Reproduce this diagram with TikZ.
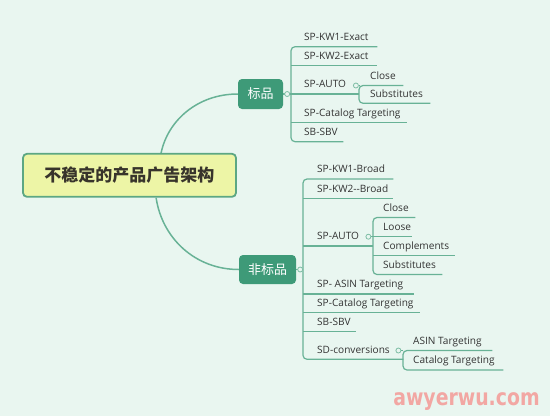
\documentclass[tikz,border=0pt]{standalone}
\usepackage{fontspec}
\usepackage{graphicx}
\usetikzlibrary{calc}
\setmainfont{Open Sans}
\newfontfamily\cjk{Noto Sans CJK SC}
\newfontfamily\wmfont{DejaVu Sans}
\definecolor{bg}{HTML}{E9F6F0}
\definecolor{ln}{HTML}{68B296}
\definecolor{topicfill}{HTML}{3E9A78}
\definecolor{rootfill}{HTML}{EDF5A6}
\definecolor{rootdraw}{HTML}{5CA783}
\definecolor{txt}{HTML}{333333}
\definecolor{wm}{HTML}{F2A7A3}
\newcommand\leafnode[6]{%
  \node[leaf] (#1) at (#2,#3) {\makebox[\dimexpr#4pt-#2pt\relax][l]{\hspace*{#5pt}#6}};}
\begin{document}
\begin{tikzpicture}[x=1pt,y=-1pt,
  br/.style={draw=ln,line width=1.2pt},
  cv/.style={draw=ln,line width=1.5pt},
  leaf/.style={anchor=south west,inner xsep=0pt,inner ysep=0pt,text height=10pt,text depth=6pt,
    text=txt,font=\fontsize{10.1}{11}\selectfont},
  root/.style={draw=rootdraw,fill=rootfill,line width=1.8pt,rounded corners=4pt,
    minimum width=213pt,minimum height=43pt,inner sep=0pt,text=black!80!olive,
    font=\cjk\bfseries\fontsize{17}{17}\selectfont},
  topic/.style={fill=topicfill,rounded corners=4pt,inner sep=0pt,text=white,
    font=\cjk\fontsize{13}{13}\selectfont},
  dot/.style={circle,draw=ln!85,fill=bg,line width=0.8pt,inner sep=0pt,minimum size=5pt},
  wmk/.style={text=wm,font=\wmfont\bfseries\fontsize{23}{23}\selectfont,inner sep=0pt}]
\fill[bg] (0,0) rectangle (550,416);
\useasboundingbox (0,0) rectangle (550,416);

% root and topics
\node[root] (root) at (129.5,175.3) {不稳定的产品广告架构};
\node[topic,minimum width=45pt,minimum height=30pt] (std) at (260.5,94) {标品};
\node[topic,minimum width=57pt,minimum height=29pt] (fstd) at (267.5,269.5) {非标品};

\draw[cv] ($(root.north west)+(139,0)$) .. controls (168,120) and (198,94) .. (std.west);
\draw[cv] ($(root.south west)+(134,0)$) .. controls (162,238) and (195,269.5) .. (fstd.west);

% children of 标品
\leafnode{k1}{291}{46.7}{377}{13}{SP-KW1-Exact}
\leafnode{k2}{291}{65.7}{377}{13}{SP-KW2-Exact}
\leafnode{auto1}{291}{94}{359}{13}{SP-AUTO}
\leafnode{cat1}{291}{122.7}{407}{13}{SP-Catalog Targeting}
\leafnode{sbv1}{291}{141.7}{343}{13}{SB-SBV}
\leafnode{close1}{359}{85.5}{403}{11}{Close}
\leafnode{subs1}{359}{103.3}{430}{11}{Substitutes}

\draw[br] (std.east) -- (std.east -| k1.south west);
\draw[br,rounded corners=4pt] (k1.south east) -- (k1.south west) -- (sbv1.south west) -- (sbv1.south east);
\foreach \n in {k2,cat1} \draw[br] (\n.south west) -- (\n.south east);
\draw[br] (auto1.south west) -- (auto1.south east);
\node[dot] (d1) at ($(std.east)+(4,0)$) {};

\node[dot] (d2) at ($(auto1.south east)+(-3.5,-8.5)$) {};
\draw[br] (d2.east) -- (close1.south west);
\draw[br,rounded corners=4pt] (close1.south east) -- (close1.south west) -- (subs1.south west) -- (subs1.south east);

% children of 非标品
\leafnode{b1}{303}{179}{393}{14}{SP-KW1-Broad}
\leafnode{b2}{303}{198.3}{393}{14}{SP-KW2-{}-Broad}
\leafnode{auto2}{303}{246}{373}{14}{SP-AUTO}
\leafnode{asin2}{303}{294}{414}{14}{SP- ASIN Targeting}
\leafnode{cat2}{303}{312.7}{420}{14}{SP-Catalog Targeting}
\leafnode{sbv2}{303}{331.7}{356}{14}{SB-SBV}
\leafnode{sd}{303}{359.3}{403}{14}{SD-conversions}

\leafnode{close2}{373}{217.5}{415}{10}{Close}
\leafnode{loose2}{373}{236.7}{412}{10}{Loose}
\leafnode{comp2}{373}{255.7}{455}{10}{Complements}
\leafnode{subs2}{373}{274.5}{442}{10}{Substitutes}

\leafnode{asin3}{403}{350.5}{492}{10}{ASIN Targeting}
\leafnode{cat3}{403}{370}{503}{10}{Catalog Targeting}

\draw[br] (fstd.east) -- (fstd.east -| b1.south west);
\draw[br,rounded corners=4pt] (b1.south east) -- (b1.south west) -- (sd.south west) -- (sd.south east);
\foreach \n in {b2,auto2,asin2,cat2,sbv2} \draw[br] (\n.south west) -- (\n.south east);
\node[dot] (d3) at ($(fstd.east)+(4,0)$) {};

\node[dot] (d4) at ($(auto2.south east)+(-5,-9.3)$) {};
\draw[br] (d4.east) -- (loose2.south west);
\draw[br,rounded corners=4pt] (close2.south east) -- (close2.south west) -- (subs2.south west) -- (subs2.south east);
\foreach \n in {loose2,comp2} \draw[br] (\n.south west) -- (\n.south east);

\node[dot] (d5) at ($(sd.south east)+(-5,-8.8)$) {};
\draw[br] (d5.east) -- (asin3.south west);
\draw[br,rounded corners=4pt] (asin3.south east) -- (asin3.south west) -- (cat3.south west) -- (cat3.south east);

% watermark
\node[wmk,anchor=base] (wmtext) at (466.5,405) {\scalebox{0.82}[1]{awyerwu.com}};
\end{tikzpicture}
\end{document}
